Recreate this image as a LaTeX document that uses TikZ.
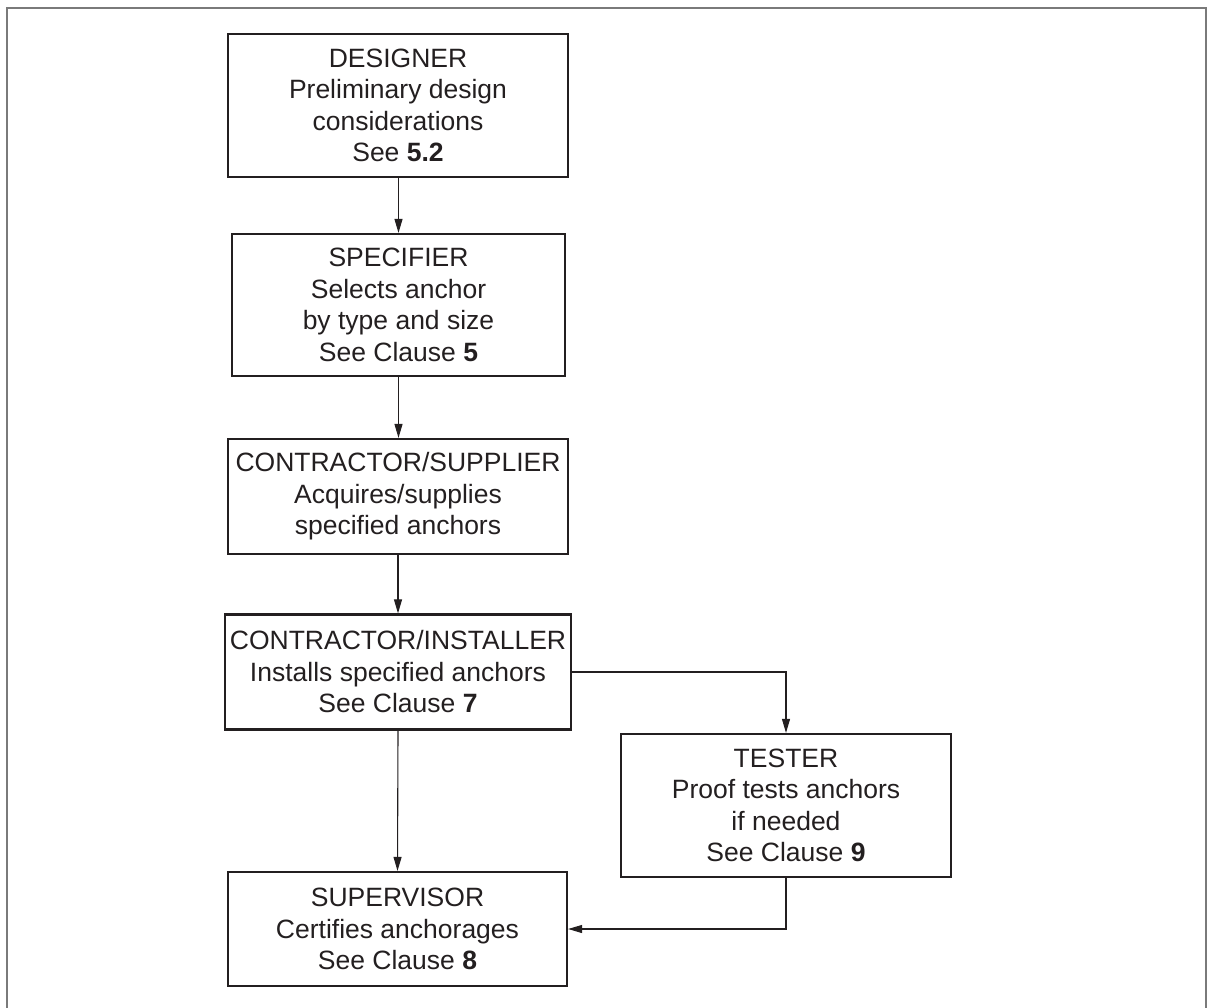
\documentclass[tikz,border=0pt]{standalone}
\usepackage{fontspec}
\setmainfont{Liberation Sans}
\usetikzlibrary{arrows.meta}
\definecolor{ink}{HTML}{231F20}
\definecolor{framegray}{HTML}{7A7A7A}
\tikzset{
  stagebox/.style={draw=ink, line width=2.2pt, text=ink, align=center, inner sep=0pt,
    font=\fontsize{26.5}{31.5}\selectfont},
  flow/.style={draw=ink, line width=1.1pt, -{Triangle[length=14pt,width=8pt]}},
}
\begin{document}
\begin{tikzpicture}[x=1pt,y=-1pt]
\useasboundingbox (0,0) rectangle (1210,1008);
\draw[framegray, line width=1.6pt] (7,1010) -- (7,8) -- (1206,8) -- (1206,1010);

\node[stagebox, minimum width=340pt, minimum height=143pt] (des) at (398,105.5)
  {DESIGNER\\Preliminary design\\considerations\\See \textbf{5.2}};
\node[stagebox, minimum width=333pt, minimum height=142pt] (spe) at (398.5,305)
  {SPECIFIER\\Selects anchor\\by type and size\\ See Clause \textbf{5}};
\node[stagebox, minimum width=340pt, minimum height=115pt] (sup) at (398,496.5)
  {CONTRACTOR/SUPPLIER\\Acquires/supplies\\specified anchors};
\node[stagebox, minimum width=346pt, minimum height=115pt] (ins) at (398,672)
  {CONTRACTOR/INSTALLER\\Installs specified anchors\\See Clause \textbf{7}};
\node[stagebox, minimum width=330pt, minimum height=143pt] (tes) at (786,805.5)
  {TESTER\\Proof tests anchors\\if needed\\ See Clause \textbf{9}};
\node[stagebox, minimum width=339pt, minimum height=114pt] (svr) at (397.5,929)
  {SUPERVISOR\\Certifies anchorages\\See Clause \textbf{8}};

\draw[flow] (des.south -| spe.north) -- (spe.north);
\draw[flow] (spe.south) -- (spe.south |- sup.north);
\draw[flow] (sup.south) -- (ins.north);
\draw[flow] (ins.south) -- (svr.north);
\draw[flow] (ins.east) -| (tes.north);
\draw[flow] (tes.south) |- (svr.east);
\end{tikzpicture}
\end{document}
